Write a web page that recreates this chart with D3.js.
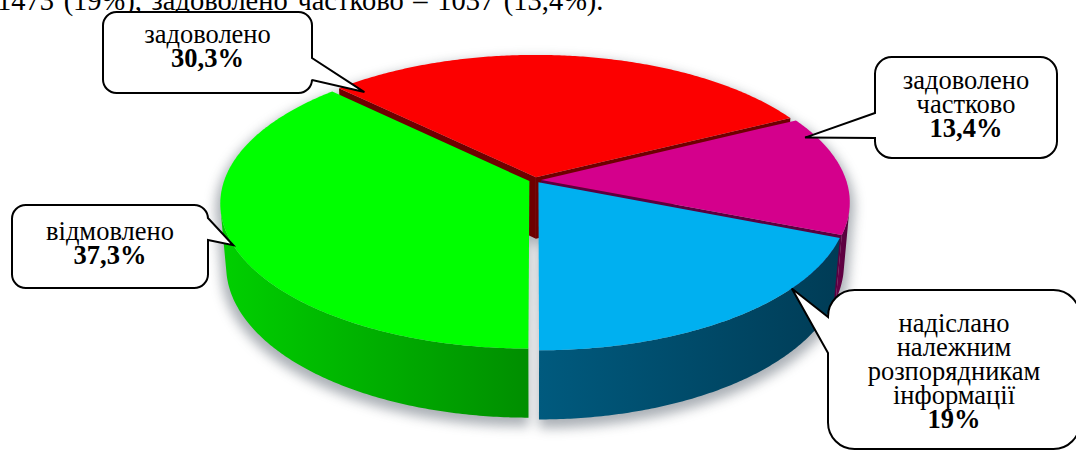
<!DOCTYPE html>
<html><head><meta charset="utf-8">
<script src="https://cdn.jsdelivr.net/npm/d3@7"></script>
<style>html,body{margin:0;padding:0;background:#fff;overflow:hidden}
text{font-family:'Liberation Serif','Times New Roman','DejaVu Serif',serif}</style>
</head><body>
<svg id="c" width="1076" height="450"></svg>
<script>
// ---- data ----
const categories = ["задоволено", "задоволено частково", "надіслано належним розпорядникам інформації", "відмовлено"];
const values = [30.3, 13.4, 19.0, 37.3];
const valueLabels = ["30,3%", "13,4%", "19%", "37,3%"];
const labelLines = [["задоволено"], ["задоволено", "частково"], ["надіслано", "належним", "розпорядникам", "інформації"], ["відмовлено"]];
const headerText = "1473 (19%), задоволено частково – 1037 (13,4%).";

// ---- styles ----
const topColors = ["#fc0000", "#d4008c", "#00b0f0", "#00ff00"];
const sideLight = ["#8a0000", "#6a0048", "#005a7e", "#00d000"];
const sideDark = ["#6a0000", "#52003a", "#003c56", "#008e00"];
const wallColors = ["#6e0000", "#5a0040", "#004462", "#008a00"];

// callout layout (box + anchor on slice: angle in degrees, radius fraction)
const callouts = [
  {x0:103, y0:12, x1:312, y1:93, side:"right", b0:58, b1:80, ang:-43, rr:0.91, top:31},
  {x0:875, y0:57, x1:1057, y1:158, side:"left", b0:113, b1:138, ang:71, rr:0.96, top:32},
  {x0:828, y0:290, x1:1080, y1:449, side:"left", b0:317, b1:353, ang:132, rr:1.0, top:42},
  {x0:12, y0:205, x1:208, y1:288, side:"right", b0:218, b1:240, ang:245, rr:1.0, top:35}
];

const svg = d3.select("#c");
const defs = svg.append("defs");
const FONT = "'Liberation Serif','Times New Roman','DejaVu Serif',serif";

// ---- perspective projection ----
const cx = 535, cy = 180, f = 1779, D = 5.833, S = 0.4645, C = Math.sqrt(1 - S*S), h = 0.233, explode = 0.02;
const sx = d3.scaleLinear().domain([0, 1]).range([cx, cx + f]);
const sy = d3.scaleLinear().domain([0, 1]).range([cy, cy - f]);
function proj(X, Y, Z) { const zc = D + Z*C - Y*S; return [sx(X/zc), sy((Z*S + Y*C)/zc)]; }

const total = d3.sum(values);
const start = Math.PI - 2*Math.PI*d3.sum(values.slice(0, 3))/total;
const arcs = d3.pie().sort(null).value(d => d).startAngle(start).endAngle(start + 2*Math.PI)(values);
const visLo = Math.acos(-1/(D*C)), visHi = 2*Math.PI - visLo;
const cam = [0, D*S, -D*C];

function samp(t0, t1) { const n = Math.max(2, Math.ceil(Math.abs(t1 - t0)/0.01)); return d3.range(n + 1).map(k => t0 + (t1 - t0)*k/n); }
const lineGen = d3.line();

const slices = arcs.map((a, i) => {
  const mid = (a.startAngle + a.endAngle)/2;
  const ox = explode*Math.sin(mid), oz = explode*Math.cos(mid);
  const rim = (t, Y, r = 1) => proj(ox + r*Math.sin(t), Y, oz + r*Math.cos(t));
  const apex = Y => proj(ox, Y, oz);
  const top = [apex(0), ...samp(a.startAngle, a.endAngle).map(t => rim(t, 0))];
  const walls = [];
  const t0 = a.startAngle, t1 = a.endAngle;
  const d0 = -Math.cos(t0)*(cam[0]-ox) + Math.sin(t0)*(cam[2]-oz);
  const d1 = Math.cos(t1)*(cam[0]-ox) - Math.sin(t1)*(cam[2]-oz);
  if (d0 > 0.02) walls.push([apex(0), rim(t0, 0), rim(t0, -h), apex(-h)]);
  if (d1 > 0.02) walls.push([apex(0), rim(t1, 0), rim(t1, -h), apex(-h)]);
  let side = null;
  const lo = Math.max(t0, visLo), hi = Math.min(t1, visHi);
  if (hi > lo) {
    const ts = samp(lo, hi);
    side = [...ts.map(t => rim(t, 0)), ...ts.slice().reverse().map(t => rim(t, -h))];
  }
  const bottom = [apex(-h), ...samp(t0, t1).map(t => rim(t, -h))];
  return {i, mid, top, walls, side, bottom, rim};
});

// ---- shadow ----
const flt = defs.append("filter").attr("id", "blur").attr("x", "-20%").attr("y", "-20%").attr("width", "140%").attr("height", "140%");
flt.append("feGaussianBlur").attr("stdDeviation", 6);
const sh = svg.append("g").attr("filter", "url(#blur)").attr("opacity", 0.55)
  .attr("transform", `translate(${cx},${cy + 5}) scale(1.015) translate(${-cx},${-cy})`);
slices.forEach(s => {
  const polys = [s.top, s.bottom, ...s.walls]; if (s.side) polys.push(s.side);
  polys.forEach(p => sh.append("path").attr("d", lineGen(p) + "Z").attr("fill", "#66707a"));
});

// ---- slices, far first ----
const order = slices.slice().sort((a, b) => Math.cos(b.mid) - Math.cos(a.mid));
const g = svg.append("g");
order.forEach(s => {
  const gs = g.append("g");
  s.walls.forEach(w => gs.append("path").attr("d", lineGen(w) + "Z").attr("fill", wallColors[s.i]));
  if (s.side) {
    const xs = s.side.map(p => p[0]);
    const gid = "sg" + s.i;
    const lg = defs.append("linearGradient").attr("id", gid).attr("gradientUnits", "userSpaceOnUse")
      .attr("x1", d3.min(xs)).attr("x2", d3.max(xs)).attr("y1", 0).attr("y2", 0);
    lg.append("stop").attr("offset", 0).attr("stop-color", sideLight[s.i]);
    lg.append("stop").attr("offset", 1).attr("stop-color", sideDark[s.i]);
    gs.append("path").attr("d", lineGen(s.side) + "Z").attr("fill", `url(#${gid})`);
  }
  gs.append("path").attr("d", lineGen(s.top) + "Z").attr("fill", topColors[s.i]);
});

// ---- header text (cut off at top) ----
svg.append("text").attr("x", -3).attr("y", 10)
  .style("font-family", FONT).attr("font-size", 28.5)
  .attr("word-spacing", 2.5).attr("fill", "#000").text(headerText);

// ---- callouts ----
function calloutPath(b, tx, ty) {
  const {x0, y0, x1, y1} = b; const r = Math.min(x1 - x0, y1 - y0)*0.1667;
  let p = `M${x0 + r},${y0}H${x1 - r}A${r},${r} 0 0 1 ${x1},${y0 + r}`;
  if (b.side === "right") p += `V${b.b0}L${tx},${ty}L${x1},${b.b1}`;
  p += `V${y1 - r}A${r},${r} 0 0 1 ${x1 - r},${y1}H${x0 + r}A${r},${r} 0 0 1 ${x0},${y1 - r}`;
  if (b.side === "left") p += `V${b.b1}L${tx},${ty}L${x0},${b.b0}`;
  p += `V${y0 + r}A${r},${r} 0 0 1 ${x0 + r},${y0}Z`;
  return p;
}
const lg2 = svg.append("g");
callouts.forEach((b, i) => {
  const [tx, ty] = slices[i].rim(b.ang*Math.PI/180, 0, b.rr);
  lg2.append("path").attr("d", calloutPath(b, tx, ty)).attr("fill", "#fff").attr("stroke", "#000")
    .attr("stroke-width", 2).attr("stroke-linejoin", "miter");
  const xc = (b.x0 + b.x1)/2;
  const t = lg2.append("text").attr("text-anchor", "middle")
    .style("font-family", FONT).attr("font-size", 26.5).attr("fill", "#000");
  const lines = labelLines[i];
  lines.forEach((ln, k) => t.append("tspan").attr("x", xc).attr("y", b.y0 + b.top + k*24).text(ln));
  t.append("tspan").attr("x", xc).attr("y", b.y0 + b.top + lines.length*24).attr("font-weight", "bold").text(valueLabels[i]);
});
</script>
</body></html>
